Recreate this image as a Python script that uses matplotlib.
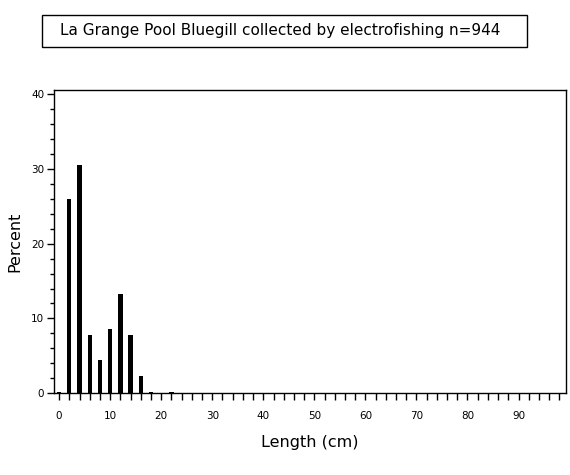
import numpy as np
import matplotlib
matplotlib.use("Agg")
import matplotlib.pyplot as plt
from matplotlib.patches import Rectangle

# length class midpoints (cm) and percent of fish
lengths = [0, 2, 4, 6, 8, 10, 12, 14, 16, 18, 20, 22]
percent = [0.15, 26.0, 30.5, 7.8, 4.4, 8.6, 13.3, 7.8, 2.25, 0.15, 0.0, 0.15]

title = "La Grange Pool Bluegill collected by electrofishing n=944"

plt.rcParams['font.family'] = ['DejaVu Sans']

W, H = 570, 475
fig = plt.figure(figsize=(W / 100, H / 100), dpi=100)
ax = fig.add_axes([54 / W, 1 - 393 / H, (566 - 54) / W, (393 - 90) / H])

ax.bar(lengths, percent, width=0.85, color='black')

ax.set_xlim(-1, 99.3)
ax.set_ylim(0, 40.6)

xt = np.arange(0, 99, 2)
ax.set_xticks(xt)
ax.set_xticklabels([str(v) if v % 10 == 0 else '' for v in xt], fontsize=7.5)
ax.set_yticks([0, 10, 20, 30, 40])
ax.set_yticks(np.arange(0, 41, 2), minor=True)
ax.tick_params(axis='y', which='major', direction='out', length=5, width=1, labelsize=7.5, pad=2)
ax.tick_params(axis='y', which='minor', direction='out', length=3, width=1)
ax.tick_params(axis='x', which='major', direction='out', length=5, width=1, labelsize=7.5, pad=8)

for s in ax.spines.values():
    s.set_linewidth(1)

ax.set_xlabel("Length (cm)", fontsize=11.5, labelpad=10)
ax.set_ylabel("Percent", fontsize=11.5, labelpad=6)

# boxed title
fig.patches.append(Rectangle((42 / W, 1 - 47 / H), (527 - 42) / W, 32 / H,
                             transform=fig.transFigure, fill=False,
                             edgecolor='black', linewidth=1))
fig.text(280 / W, 1 - 31 / H, title, ha='center', va='center', fontsize=11)

fig.savefig("out.png", dpi=100)
